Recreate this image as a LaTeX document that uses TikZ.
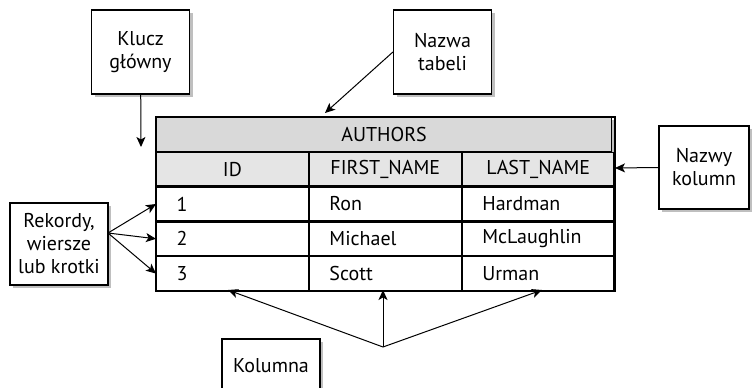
\documentclass[tikz,border=0pt]{standalone}
\usepackage{fontspec}
\setmainfont{PT Sans}
\usetikzlibrary{arrows.meta, positioning, shadows}

\tikzset{
  lbl/.style={draw, fill=white, line width=1.2pt, align=center,
    minimum width=98pt, minimum height=84pt, inner sep=2pt,
    drop shadow={shadow xshift=3pt, shadow yshift=-3pt, fill=black!25, opacity=1}},
  cell/.style={draw, line width=1.2pt, minimum width=151.67pt,
    minimum height=33.6pt, inner sep=0pt},
  datacell/.style={cell, text width=111.67pt, inner xsep=20pt, align=left},
  ptr/.style={line width=1pt, -{Stealth[length=10pt, width=9pt, inset=2.5pt]}}
}

\begin{document}
\begin{tikzpicture}[x=1pt, y=-1pt, font=\fontsize{20}{23}\selectfont]

  % ----- Frame -----
  \clip (0,0) rectangle (752,388);

  % ----- Table AUTHORS -----
  % shadow of the whole table
  \fill[black!25] (159,120) rectangle (614,288);

  % header rows
  \node[cell, fill=black!15, minimum width=455pt, anchor=north west] (authors) at (156,117) {AUTHORS};
  \node[cell, fill=black!10, anchor=north west] (hid) at (authors.south west) {ID};
  \node[cell, fill=black!10, right=0pt of hid] (hfirst) {FIRST\_NAME};
  \node[cell, fill=black!10, right=0pt of hfirst] (hlast) {LAST\_NAME};

  % records
  \node[datacell, fill=white, below=0pt of hid] (id1) {1};
  \node[datacell, fill=white, right=0pt of id1] (first1) {Ron};
  \node[datacell, fill=white, right=0pt of first1] (last1) {Hardman};

  \node[datacell, fill=white, below=0pt of id1] (id2) {2};
  \node[datacell, fill=white, right=0pt of id2] (first2) {Michael};
  \node[datacell, fill=white, right=0pt of first2] (last2) {McLaughlin};

  \node[datacell, fill=white, below=0pt of id2] (id3) {3};
  \node[datacell, fill=white, right=0pt of id3] (first3) {Scott};
  \node[datacell, fill=white, right=0pt of first3] (last3) {Urman};

  % outer border
  \draw[line width=1.8pt] (authors.north west) rectangle (last3.south east);

  % ----- Label boxes -----
  \node[lbl] (klucz) at (140.5,52) {Klucz\\główny};
  \node[lbl] (nazwa) at (442.5,52) {Nazwa\\tabeli};
  \node[lbl, minimum height=82pt] (rekordy) at (59,244) {Rekordy,\\wiersze\\lub krotki};
  \node[lbl, minimum width=90pt, minimum height=83pt] (nazwy) at (704,167.5) {Nazwy\\kolumn};
  \node[lbl, minimum height=54pt] (kolumna) at (271,366) {Kolumna};

  % ----- Pointers -----
  \coordinate (pk) at (141,147);
  \coordinate (tname) at (325,113);
  \coordinate (cnames) at (615,168);
  \coordinate (fork) at (108,233);
  \coordinate (colfork) at (383,347);
  \coordinate (col1) at (228,290);
  \coordinate (col2) at (383,290);
  \coordinate (col3) at (542,290);

  \draw[ptr] (klucz) -- (pk);
  \draw[ptr] (nazwa.west) -- (tname);
  \draw[ptr] (nazwy.west) -- (cnames);

  \draw[ptr] (fork) -- (id1.west);
  \draw[ptr] (fork) -- (id2.west);
  \draw[ptr] (fork) -- (id3.west);

  \draw[ptr] (colfork) -- (col1);
  \draw[ptr] (colfork) -- (col2);
  \draw[ptr] (colfork) -- (col3);

\end{tikzpicture}
\end{document}
